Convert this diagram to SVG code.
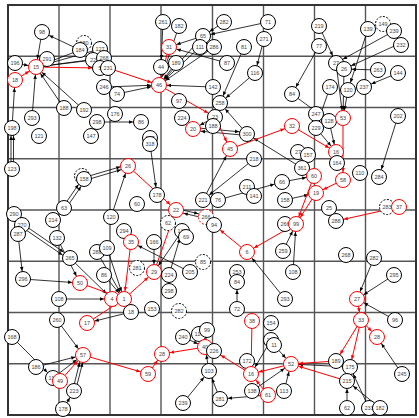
<svg xmlns="http://www.w3.org/2000/svg" width="419" height="418" viewBox="0 0 419 418">
<style>
.grid line{stroke:#555;stroke-width:1.4}
.e{stroke:#000;stroke-width:0.8;fill:none;marker-end:url(#ab)}
.r{stroke:#f00;stroke-width:1;fill:none;marker-end:url(#ar)}
.node circle{fill:#fff;stroke:#000;stroke-width:1}
.node.red circle{stroke:#f00}
.node.dash circle{stroke-dasharray:2,1.5}
.node text{font-family:"Liberation Sans",Arial,sans-serif;font-size:5.5px;fill:#444;text-anchor:middle;dominant-baseline:central}
</style>
<defs>
<marker id="ab" markerUnits="userSpaceOnUse" refX="8" refY="0" markerWidth="10" markerHeight="10" orient="auto" style="overflow:visible"><path d="M-4,-1.8L0,0L-4,1.8z" fill="#000"/></marker>
<marker id="ar" markerUnits="userSpaceOnUse" refX="8" refY="0" markerWidth="10" markerHeight="10" orient="auto" style="overflow:visible"><path d="M-4,-1.8L0,0L-4,1.8z" fill="#f00"/></marker>
</defs>
<rect width="419" height="418" fill="#fff"/>
<g class="grid">
<line x1="59" y1="5" x2="59" y2="415"/><line x1="110" y1="5" x2="110" y2="415"/><line x1="161" y1="5" x2="161" y2="415"/><line x1="212.5" y1="5" x2="212.5" y2="415"/><line x1="263.5" y1="5" x2="263.5" y2="415"/><line x1="314.5" y1="5" x2="314.5" y2="415"/><line x1="365.5" y1="5" x2="365.5" y2="415"/>
<line x1="8" y1="56.25" x2="416" y2="56.25"/><line x1="8" y1="107.5" x2="416" y2="107.5"/><line x1="8" y1="158.75" x2="416" y2="158.75"/><line x1="8" y1="210" x2="416" y2="210"/><line x1="8" y1="261.25" x2="416" y2="261.25"/><line x1="8" y1="312.5" x2="416" y2="312.5"/><line x1="8" y1="363.75" x2="416" y2="363.75"/>
<rect x="8" y="5" width="408" height="410" fill="none" stroke="#333" stroke-width="2"/>
</g>
<g id="edges">
<line class="e" x1="80" y1="50" x2="42" y2="32"/>
<line class="e" x1="42" y1="32" x2="36" y2="67"/>
<line class="e" x1="15" y1="63" x2="36" y2="67"/>
<line class="e" x1="47" y1="59" x2="36" y2="67"/>
<line class="e" x1="80" y1="50" x2="36" y2="67"/>
<line class="e" x1="100" y1="49" x2="36" y2="67"/>
<line class="e" x1="93" y1="60" x2="36" y2="67"/>
<line class="e" x1="104" y1="58" x2="36" y2="67"/>
<line class="e" x1="12" y1="128" x2="15" y2="80"/>
<line class="e" x1="32" y1="118" x2="36" y2="67"/>
<line class="e" x1="64" y1="108" x2="36" y2="67"/>
<line class="e" x1="84" y1="110" x2="36" y2="67"/>
<line class="e" x1="11" y1="169" x2="11" y2="128"/>
<line class="e" x1="13.5" y1="169" x2="13.5" y2="128"/>
<line class="e" x1="104" y1="87" x2="159" y2="85"/>
<line class="e" x1="117" y1="94" x2="159" y2="85"/>
<line class="e" x1="179" y1="26" x2="159" y2="85"/>
<line class="e" x1="203" y1="36" x2="159" y2="85"/>
<line class="e" x1="200" y1="47" x2="159" y2="85"/>
<line class="e" x1="214" y1="47" x2="159" y2="85"/>
<line class="e" x1="224" y1="22" x2="203" y2="36"/>
<line class="e" x1="268" y1="22" x2="203" y2="36"/>
<line class="e" x1="203" y1="36" x2="169" y2="47"/>
<line class="e" x1="227" y1="63" x2="169" y2="47"/>
<line class="e" x1="264" y1="39" x2="255" y2="73"/>
<line class="e" x1="244" y1="47" x2="220" y2="103"/>
<line class="e" x1="255" y1="73" x2="220" y2="103"/>
<line class="e" x1="213" y1="87" x2="159" y2="85"/>
<line class="e" x1="176" y1="63" x2="159" y2="85"/>
<line class="e" x1="163" y1="22" x2="161" y2="67"/>
<line class="e" x1="319" y1="26" x2="336" y2="63"/>
<line class="e" x1="368" y1="29" x2="348" y2="90"/>
<line class="e" x1="394" y1="31" x2="336" y2="63"/>
<line class="e" x1="401" y1="43" x2="344" y2="69"/>
<line class="e" x1="378" y1="70" x2="344" y2="69"/>
<line class="e" x1="398" y1="73" x2="364" y2="87"/>
<line class="e" x1="319" y1="46" x2="292" y2="94"/>
<line class="e" x1="292" y1="94" x2="329" y2="121"/>
<line class="e" x1="336" y1="63" x2="343" y2="118"/>
<line class="e" x1="344" y1="69" x2="343" y2="118"/>
<line class="e" x1="348" y1="90" x2="343" y2="118"/>
<line class="e" x1="330" y1="87" x2="316" y2="128"/>
<line class="e" x1="316" y1="114" x2="343" y2="118"/>
<line class="e" x1="316" y1="128" x2="336" y2="152"/>
<line class="e" x1="329" y1="121" x2="336" y2="152"/>
<line class="e" x1="398" y1="116" x2="379" y2="177"/>
<line class="e" x1="282" y1="182" x2="314" y2="176"/>
<line class="e" x1="285" y1="200" x2="316" y2="193"/>
<line class="e" x1="302" y1="168" x2="247" y2="134"/>
<line class="e" x1="254" y1="159" x2="203" y2="200"/>
<line class="e" x1="203" y1="200" x2="230" y2="149"/>
<line class="e" x1="218" y1="200" x2="282" y2="182"/>
<line class="e" x1="247" y1="134" x2="220" y2="103"/>
<line class="e" x1="215" y1="117" x2="193" y2="129"/>
<line class="e" x1="193" y1="127.5" x2="247" y2="132.5"/>
<line class="e" x1="247" y1="135.5" x2="193" y2="130.5"/>
<line class="e" x1="150" y1="144" x2="157" y2="195"/>
<line class="e" x1="97" y1="122" x2="141" y2="122"/>
<line class="e" x1="63" y1="207" x2="83" y2="178"/>
<line class="e" x1="65.5" y1="209" x2="85.5" y2="180"/>
<line class="e" x1="84" y1="177.5" x2="128" y2="164.5"/>
<line class="e" x1="84.5" y1="180.5" x2="128.5" y2="167.5"/>
<line class="e" x1="111" y1="217" x2="128" y2="166"/>
<line class="e" x1="53" y1="220" x2="64" y2="208"/>
<line class="e" x1="18" y1="234" x2="23" y2="279"/>
<line class="e" x1="22" y1="223.5" x2="70" y2="256.5"/>
<line class="e" x1="21" y1="226.5" x2="69" y2="259.5"/>
<line class="e" x1="57" y1="238" x2="80" y2="283"/>
<line class="e" x1="70" y1="258" x2="112" y2="299"/>
<line class="e" x1="23" y1="279" x2="80" y2="283"/>
<line class="e" x1="97" y1="252" x2="124" y2="299"/>
<line class="e" x1="107" y1="248" x2="124" y2="299"/>
<line class="e" x1="104" y1="275" x2="124" y2="299"/>
<line class="e" x1="59" y1="299" x2="112" y2="299"/>
<line class="e" x1="154" y1="242" x2="154" y2="272"/>
<line class="e" x1="182" y1="231" x2="154" y2="272"/>
<line class="e" x1="169" y1="275" x2="182" y2="231"/>
<line class="e" x1="190" y1="272" x2="131" y2="242"/>
<line class="e" x1="176" y1="208.5" x2="206" y2="215.5"/>
<line class="e" x1="206" y1="218.5" x2="176" y2="211.5"/>
<line class="e" x1="285" y1="299" x2="247" y2="252"/>
<line class="e" x1="283" y1="251" x2="296" y2="224"/>
<line class="e" x1="293" y1="272" x2="296" y2="224"/>
<line class="e" x1="374" y1="258" x2="357" y2="299"/>
<line class="e" x1="394" y1="275" x2="357" y2="299"/>
<line class="e" x1="395" y1="320" x2="357" y2="299"/>
<line class="e" x1="402" y1="374" x2="377" y2="337"/>
<line class="e" x1="347" y1="408" x2="347" y2="381"/>
<line class="e" x1="369" y1="408" x2="350" y2="367"/>
<line class="e" x1="380" y1="408" x2="347" y2="381"/>
<line class="e" x1="350" y1="367" x2="291" y2="364"/>
<line class="e" x1="271" y1="340" x2="251" y2="374"/>
<line class="e" x1="274" y1="345" x2="291" y2="364"/>
<line class="e" x1="252" y1="391" x2="291" y2="364"/>
<line class="e" x1="284" y1="391" x2="291" y2="364"/>
<line class="e" x1="268" y1="395" x2="220" y2="399"/>
<line class="e" x1="220" y1="399" x2="209" y2="371"/>
<line class="e" x1="183" y1="403" x2="209" y2="371"/>
<line class="e" x1="209" y1="371" x2="205" y2="347"/>
<line class="e" x1="183" y1="337" x2="205" y2="347"/>
<line class="e" x1="207" y1="330" x2="205" y2="347"/>
<line class="e" x1="57" y1="320" x2="83" y2="355"/>
<line class="e" x1="36" y1="367" x2="83" y2="355"/>
<line class="e" x1="53" y1="378" x2="83" y2="355"/>
<line class="e" x1="72.5" y1="391" x2="81.5" y2="355"/>
<line class="e" x1="75.5" y1="391" x2="84.5" y2="355"/>
<line class="e" x1="63" y1="409" x2="74" y2="391"/>
<line class="e" x1="12" y1="337" x2="53" y2="378"/>
<line class="e" x1="131" y1="312" x2="87" y2="323"/>
<line class="e" x1="237" y1="309" x2="237" y2="282"/>
<line class="r" x1="15" y1="80" x2="36" y2="67"/>
<line class="r" x1="36" y1="67" x2="100" y2="68"/>
<line class="r" x1="108" y1="68" x2="159" y2="85"/>
<line class="r" x1="169" y1="47" x2="159" y2="85"/>
<line class="r" x1="159" y1="85" x2="215" y2="117"/>
<line class="r" x1="215" y1="117" x2="230" y2="149"/>
<line class="r" x1="230" y1="149" x2="292" y2="126"/>
<line class="r" x1="292" y1="126" x2="336" y2="152"/>
<line class="r" x1="343" y1="118" x2="343" y2="180"/>
<line class="r" x1="343" y1="180" x2="316" y2="193"/>
<line class="r" x1="314" y1="176" x2="296" y2="224"/>
<line class="r" x1="316" y1="193" x2="296" y2="224"/>
<line class="r" x1="399" y1="207" x2="336" y2="221"/>
<line class="r" x1="296" y1="224" x2="247" y2="252"/>
<line class="r" x1="247" y1="252" x2="214" y2="225"/>
<line class="r" x1="128" y1="166" x2="176" y2="210"/>
<line class="r" x1="154" y1="272" x2="176" y2="210"/>
<line class="r" x1="131" y1="242" x2="124" y2="299"/>
<line class="r" x1="80" y1="283" x2="124" y2="299"/>
<line class="r" x1="124" y1="299" x2="154" y2="272"/>
<line class="r" x1="87" y1="323" x2="124" y2="299"/>
<line class="r" x1="60" y1="381" x2="83" y2="355"/>
<line class="r" x1="83" y1="355" x2="148" y2="374"/>
<line class="r" x1="148" y1="374" x2="162" y2="354"/>
<line class="r" x1="205" y1="347" x2="162" y2="354"/>
<line class="r" x1="252" y1="321" x2="251" y2="374"/>
<line class="r" x1="251" y1="374" x2="214" y2="351"/>
<line class="r" x1="268" y1="395" x2="251" y2="374"/>
<line class="r" x1="291" y1="364" x2="251" y2="374"/>
<line class="r" x1="357" y1="299" x2="361" y2="320"/>
<line class="r" x1="361" y1="320" x2="377" y2="337"/>
<line class="r" x1="361" y1="320" x2="336" y2="361"/>
<line class="r" x1="361" y1="320" x2="350" y2="367"/>
<line class="r" x1="336" y1="361" x2="291" y2="364"/>
<line class="r" x1="347" y1="381" x2="291" y2="364"/>
</g>
<g id="n-98" class="node"><circle cx="42" cy="32" r="7.5"/><text x="42" y="32">98</text></g>
<g id="n-180" class="node dash"><circle cx="84" cy="43" r="7.5"/><text x="84" y="43">180</text></g>
<g id="n-184" class="node"><circle cx="80" cy="50" r="7.5"/><text x="80" y="50">184</text></g>
<g id="n-127" class="node"><circle cx="100" cy="49" r="7.5"/><text x="100" y="49">127</text></g>
<g id="n-196" class="node"><circle cx="15" cy="63" r="7.5"/><text x="15" y="63">196</text></g>
<g id="n-291" class="node"><circle cx="47" cy="59" r="7.5"/><text x="47" y="59">291</text></g>
<g id="n-15" class="node red"><circle cx="36" cy="67" r="7.5"/><text x="36" y="67">15</text></g>
<g id="n-22" class="node"><circle cx="93" cy="60" r="7.5"/><text x="93" y="60">22</text></g>
<g id="n-268a" class="node"><circle cx="104" cy="58" r="7.5"/><text x="104" y="58">268</text></g>
<g id="n-5" class="node"><circle cx="100" cy="68" r="7.5"/><text x="100" y="68">5</text></g>
<g id="n-231" class="node"><circle cx="108" cy="68" r="7.5"/><text x="108" y="68">231</text></g>
<g id="n-18" class="node red"><circle cx="15" cy="80" r="7.5"/><text x="15" y="80">18</text></g>
<g id="n-246" class="node"><circle cx="104" cy="87" r="7.5"/><text x="104" y="87">246</text></g>
<g id="n-74" class="node"><circle cx="117" cy="94" r="7.5"/><text x="117" y="94">74</text></g>
<g id="n-261" class="node"><circle cx="163" cy="22" r="7.5"/><text x="163" y="22">261</text></g>
<g id="n-182" class="node"><circle cx="179" cy="26" r="7.5"/><text x="179" y="26">182</text></g>
<g id="n-31" class="node red"><circle cx="169" cy="47" r="7.5"/><text x="169" y="47">31</text></g>
<g id="n-65" class="node"><circle cx="203" cy="36" r="7.5"/><text x="203" y="36">65</text></g>
<g id="n-111" class="node"><circle cx="200" cy="47" r="7.5"/><text x="200" y="47">111</text></g>
<g id="n-286" class="node"><circle cx="214" cy="47" r="7.5"/><text x="214" y="47">286</text></g>
<g id="n-282" class="node"><circle cx="224" cy="22" r="7.5"/><text x="224" y="22">282</text></g>
<g id="n-71" class="node"><circle cx="268" cy="22" r="7.5"/><text x="268" y="22">71</text></g>
<g id="n-271" class="node"><circle cx="264" cy="39" r="7.5"/><text x="264" y="39">271</text></g>
<g id="n-81" class="node"><circle cx="244" cy="47" r="7.5"/><text x="244" y="47">81</text></g>
<g id="n-87" class="node"><circle cx="227" cy="63" r="7.5"/><text x="227" y="63">87</text></g>
<g id="n-116" class="node"><circle cx="255" cy="73" r="7.5"/><text x="255" y="73">116</text></g>
<g id="n-44" class="node"><circle cx="161" cy="67" r="7.5"/><text x="161" y="67">44</text></g>
<g id="n-189a" class="node"><circle cx="176" cy="63" r="7.5"/><text x="176" y="63">189</text></g>
<g id="n-46" class="node red"><circle cx="159" cy="85" r="7.5"/><text x="159" y="85">46</text></g>
<g id="n-142" class="node"><circle cx="213" cy="87" r="7.5"/><text x="213" y="87">142</text></g>
<g id="n-97" class="node"><circle cx="179" cy="101" r="7.5"/><text x="179" y="101">97</text></g>
<g id="n-258" class="node"><circle cx="220" cy="103" r="7.5"/><text x="220" y="103">258</text></g>
<g id="n-219" class="node"><circle cx="319" cy="26" r="7.5"/><text x="319" y="26">219</text></g>
<g id="n-77" class="node"><circle cx="319" cy="46" r="7.5"/><text x="319" y="46">77</text></g>
<g id="n-139" class="node"><circle cx="368" cy="29" r="7.5"/><text x="368" y="29">139</text></g>
<g id="n-149" class="node dash"><circle cx="383" cy="24" r="7.5"/><text x="383" y="24">149</text></g>
<g id="n-239a" class="node"><circle cx="394" cy="31" r="7.5"/><text x="394" y="31">239</text></g>
<g id="n-232" class="node"><circle cx="401" cy="45" r="7.5"/><text x="401" y="45">232</text></g>
<g id="n-27a" class="node"><circle cx="336" cy="63" r="7.5"/><text x="336" y="63">27</text></g>
<g id="n-26c" class="node"><circle cx="344" cy="69" r="7.5"/><text x="344" y="69">26</text></g>
<g id="n-263" class="node"><circle cx="378" cy="70" r="7.5"/><text x="378" y="70">263</text></g>
<g id="n-144" class="node"><circle cx="398" cy="73" r="7.5"/><text x="398" y="73">144</text></g>
<g id="n-84a" class="node"><circle cx="292" cy="94" r="7.5"/><text x="292" y="94">84</text></g>
<g id="n-174" class="node"><circle cx="330" cy="87" r="7.5"/><text x="330" y="87">174</text></g>
<g id="n-120a" class="node"><circle cx="348" cy="90" r="7.5"/><text x="348" y="90">120</text></g>
<g id="n-237" class="node"><circle cx="364" cy="87" r="7.5"/><text x="364" y="87">237</text></g>
<g id="n-188a" class="node"><circle cx="64" cy="108" r="7.5"/><text x="64" y="108">188</text></g>
<g id="n-192" class="node"><circle cx="84" cy="110" r="7.5"/><text x="84" y="110">192</text></g>
<g id="n-176" class="node"><circle cx="115" cy="114" r="7.5"/><text x="115" y="114">176</text></g>
<g id="n-198" class="node"><circle cx="12" cy="128" r="7.5"/><text x="12" y="128">198</text></g>
<g id="n-293a" class="node"><circle cx="32" cy="118" r="7.5"/><text x="32" y="118">293</text></g>
<g id="n-121" class="node"><circle cx="39" cy="136" r="7.5"/><text x="39" y="136">121</text></g>
<g id="n-298a" class="node"><circle cx="97" cy="122" r="7.5"/><text x="97" y="122">298</text></g>
<g id="n-147" class="node"><circle cx="91" cy="136" r="7.5"/><text x="91" y="136">147</text></g>
<g id="n-86a" class="node"><circle cx="141" cy="122" r="7.5"/><text x="141" y="122">86</text></g>
<g id="n-137" class="node"><circle cx="150" cy="138" r="7.5"/><text x="150" y="138">137</text></g>
<g id="n-318" class="node"><circle cx="150" cy="144" r="7.5"/><text x="150" y="144">318</text></g>
<g id="n-224a" class="node"><circle cx="182" cy="118" r="7.5"/><text x="182" y="118">224</text></g>
<g id="n-23" class="node"><circle cx="215" cy="117" r="7.5"/><text x="215" y="117">23</text></g>
<g id="n-20" class="node red"><circle cx="193" cy="129" r="7.5"/><text x="193" y="129">20</text></g>
<g id="n-188b" class="node"><circle cx="213" cy="126" r="7.5"/><text x="213" y="126">188</text></g>
<g id="n-300" class="node"><circle cx="247" cy="134" r="7.5"/><text x="247" y="134">300</text></g>
<g id="n-45" class="node red"><circle cx="230" cy="149" r="7.5"/><text x="230" y="149">45</text></g>
<g id="n-32" class="node red"><circle cx="292" cy="126" r="7.5"/><text x="292" y="126">32</text></g>
<g id="n-247" class="node"><circle cx="316" cy="114" r="7.5"/><text x="316" y="114">247</text></g>
<g id="n-128" class="node"><circle cx="329" cy="121" r="7.5"/><text x="329" y="121">128</text></g>
<g id="n-229" class="node"><circle cx="316" cy="128" r="7.5"/><text x="316" y="128">229</text></g>
<g id="n-53" class="node red"><circle cx="343" cy="118" r="7.5"/><text x="343" y="118">53</text></g>
<g id="n-202" class="node"><circle cx="398" cy="116" r="7.5"/><text x="398" y="116">202</text></g>
<g id="n-16a" class="node red"><circle cx="336" cy="152" r="7.5"/><text x="336" y="152">16</text></g>
<g id="n-27b" class="node"><circle cx="298" cy="152" r="7.5"/><text x="298" y="152">27</text></g>
<g id="n-157" class="node"><circle cx="308" cy="155" r="7.5"/><text x="308" y="155">157</text></g>
<g id="n-123" class="node"><circle cx="12" cy="169" r="7.5"/><text x="12" y="169">123</text></g>
<g id="n-26" class="node red"><circle cx="128" cy="166" r="7.5"/><text x="128" y="166">26</text></g>
<g id="n-pd" class="node dash"><circle cx="82" cy="176" r="7.5"/></g>
<g id="n-158a" class="node"><circle cx="84" cy="179" r="7.5"/><text x="84" y="179">158</text></g>
<g id="n-218" class="node"><circle cx="254" cy="159" r="7.5"/><text x="254" y="159">218</text></g>
<g id="n-211" class="node"><circle cx="247" cy="187" r="7.5"/><text x="247" y="187">211</text></g>
<g id="n-141" class="node"><circle cx="254" cy="196" r="7.5"/><text x="254" y="196">141</text></g>
<g id="n-221" class="node"><circle cx="203" cy="200" r="7.5"/><text x="203" y="200">221</text></g>
<g id="n-76" class="node"><circle cx="218" cy="200" r="7.5"/><text x="218" y="200">76</text></g>
<g id="n-60a" class="node"><circle cx="137" cy="204" r="7.5"/><text x="137" y="204">60</text></g>
<g id="n-178a" class="node"><circle cx="157" cy="195" r="7.5"/><text x="157" y="195">178</text></g>
<g id="n-164" class="node"><circle cx="337" cy="163" r="7.5"/><text x="337" y="163">164</text></g>
<g id="n-58" class="node red"><circle cx="343" cy="180" r="7.5"/><text x="343" y="180">58</text></g>
<g id="n-110" class="node"><circle cx="360" cy="173" r="7.5"/><text x="360" y="173">110</text></g>
<g id="n-284" class="node"><circle cx="379" cy="177" r="7.5"/><text x="379" y="177">284</text></g>
<g id="n-361" class="node"><circle cx="302" cy="168" r="7.5"/><text x="302" y="168">361</text></g>
<g id="n-60b" class="node red"><circle cx="314" cy="176" r="7.5"/><text x="314" y="176">60</text></g>
<g id="n-66" class="node"><circle cx="282" cy="182" r="7.5"/><text x="282" y="182">66</text></g>
<g id="n-158b" class="node"><circle cx="285" cy="200" r="7.5"/><text x="285" y="200">158</text></g>
<g id="n-19" class="node red"><circle cx="316" cy="193" r="7.5"/><text x="316" y="193">19</text></g>
<g id="n-283" class="node dash"><circle cx="387" cy="207" r="7.5"/><text x="387" y="207">283</text></g>
<g id="n-37" class="node red"><circle cx="399" cy="207" r="7.5"/><text x="399" y="207">37</text></g>
<g id="n-25" class="node"><circle cx="329" cy="208" r="7.5"/><text x="329" y="208">25</text></g>
<g id="n-63" class="node"><circle cx="64" cy="208" r="7.5"/><text x="64" y="208">63</text></g>
<g id="n-290" class="node"><circle cx="14" cy="214" r="7.5"/><text x="14" y="214">290</text></g>
<g id="n-214" class="node"><circle cx="53" cy="220" r="7.5"/><text x="53" y="220">214</text></g>
<g id="n-270" class="node"><circle cx="22" cy="225" r="7.5"/><text x="22" y="225">270</text></g>
<g id="n-287" class="node"><circle cx="18" cy="234" r="7.5"/><text x="18" y="234">287</text></g>
<g id="n-132" class="node"><circle cx="57" cy="238" r="7.5"/><text x="57" y="238">132</text></g>
<g id="n-120b" class="node"><circle cx="111" cy="217" r="7.5"/><text x="111" y="217">120</text></g>
<g id="n-294" class="node"><circle cx="124" cy="231" r="7.5"/><text x="124" y="231">294</text></g>
<g id="n-35" class="node red"><circle cx="131" cy="242" r="7.5"/><text x="131" y="242">35</text></g>
<g id="n-265" class="node"><circle cx="70" cy="258" r="7.5"/><text x="70" y="258">265</text></g>
<g id="n-288a" class="node"><circle cx="97" cy="252" r="7.5"/><text x="97" y="252">288</text></g>
<g id="n-109" class="node"><circle cx="107" cy="248" r="7.5"/><text x="107" y="248">109</text></g>
<g id="n-62d" class="node dash"><circle cx="168" cy="223" r="7.5"/><text x="168" y="223">62</text></g>
<g id="n-138a" class="node"><circle cx="182" cy="231" r="7.5"/><text x="182" y="231">138</text></g>
<g id="n-69" class="node"><circle cx="186" cy="237" r="7.5"/><text x="186" y="237">69</text></g>
<g id="n-266d" class="node red dash"><circle cx="206" cy="217" r="7.5"/><text x="206" y="217">266</text></g>
<g id="n-94" class="node"><circle cx="214" cy="225" r="7.5"/><text x="214" y="225">94</text></g>
<g id="n-22r" class="node red"><circle cx="176" cy="210" r="7.5"/><text x="176" y="210">22</text></g>
<g id="n-6" class="node red"><circle cx="247" cy="252" r="7.5"/><text x="247" y="252">6</text></g>
<g id="n-166" class="node"><circle cx="154" cy="242" r="7.5"/><text x="154" y="242">166</text></g>
<g id="n-266" class="node"><circle cx="285" cy="224" r="7.5"/><text x="285" y="224">266</text></g>
<g id="n-99a" class="node red"><circle cx="296" cy="224" r="7.5"/><text x="296" y="224">99</text></g>
<g id="n-288b" class="node"><circle cx="336" cy="221" r="7.5"/><text x="336" y="221">288</text></g>
<g id="n-259" class="node"><circle cx="283" cy="251" r="7.5"/><text x="283" y="251">259</text></g>
<g id="n-268" class="node"><circle cx="346" cy="255" r="7.5"/><text x="346" y="255">268</text></g>
<g id="n-282b" class="node"><circle cx="374" cy="258" r="7.5"/><text x="374" y="258">282</text></g>
<g id="n-296" class="node"><circle cx="23" cy="279" r="7.5"/><text x="23" y="279">296</text></g>
<g id="n-86b" class="node"><circle cx="104" cy="275" r="7.5"/><text x="104" y="275">86</text></g>
<g id="n-281d" class="node dash"><circle cx="137" cy="268" r="7.5"/><text x="137" y="268">281</text></g>
<g id="n-50" class="node red"><circle cx="80" cy="283" r="7.5"/><text x="80" y="283">50</text></g>
<g id="n-108a" class="node"><circle cx="59" cy="299" r="7.5"/><text x="59" y="299">108</text></g>
<g id="n-4r" class="node red"><circle cx="112" cy="299" r="7.5"/><text x="112" y="299">4</text></g>
<g id="n-1" class="node red"><circle cx="124" cy="299" r="7.5"/><text x="124" y="299">1</text></g>
<g id="n-85" class="node dash"><circle cx="203" cy="262" r="7.5"/><text x="203" y="262">85</text></g>
<g id="n-29" class="node red"><circle cx="154" cy="272" r="7.5"/><text x="154" y="272">29</text></g>
<g id="n-224b" class="node"><circle cx="169" cy="275" r="7.5"/><text x="169" y="275">224</text></g>
<g id="n-205" class="node"><circle cx="190" cy="272" r="7.5"/><text x="190" y="272">205</text></g>
<g id="n-298b" class="node"><circle cx="169" cy="291" r="7.5"/><text x="169" y="291">298</text></g>
<g id="n-253" class="node"><circle cx="237" cy="272" r="7.5"/><text x="237" y="272">253</text></g>
<g id="n-84b" class="node"><circle cx="237" cy="282" r="7.5"/><text x="237" y="282">84</text></g>
<g id="n-108b" class="node"><circle cx="293" cy="272" r="7.5"/><text x="293" y="272">108</text></g>
<g id="n-295" class="node"><circle cx="394" cy="275" r="7.5"/><text x="394" y="275">295</text></g>
<g id="n-293b" class="node"><circle cx="285" cy="299" r="7.5"/><text x="285" y="299">293</text></g>
<g id="n-27r" class="node red"><circle cx="357" cy="299" r="7.5"/><text x="357" y="299">27</text></g>
<g id="n-153" class="node"><circle cx="152" cy="309" r="7.5"/><text x="152" y="309">153</text></g>
<g id="n-282d" class="node dash"><circle cx="179" cy="311" r="7.5"/><text x="179" y="311">282</text></g>
<g id="n-72" class="node"><circle cx="237" cy="309" r="7.5"/><text x="237" y="309">72</text></g>
<g id="n-18x" class="node"><circle cx="131" cy="312" r="7.5"/><text x="131" y="312">18</text></g>
<g id="n-260" class="node"><circle cx="57" cy="320" r="7.5"/><text x="57" y="320">260</text></g>
<g id="n-17" class="node red"><circle cx="87" cy="323" r="7.5"/><text x="87" y="323">17</text></g>
<g id="n-168" class="node"><circle cx="12" cy="337" r="7.5"/><text x="12" y="337">168</text></g>
<g id="n-57" class="node red"><circle cx="83" cy="355" r="7.5"/><text x="83" y="355">57</text></g>
<g id="n-119" class="node"><circle cx="199" cy="334" r="7.5"/><text x="199" y="334">119</text></g>
<g id="n-99b" class="node"><circle cx="207" cy="330" r="7.5"/><text x="207" y="330">99</text></g>
<g id="n-240" class="node"><circle cx="183" cy="337" r="7.5"/><text x="183" y="337">240</text></g>
<g id="n-40" class="node red"><circle cx="205" cy="347" r="7.5"/><text x="205" y="347">40</text></g>
<g id="n-226" class="node"><circle cx="214" cy="351" r="7.5"/><text x="214" y="351">226</text></g>
<g id="n-28a" class="node red"><circle cx="162" cy="354" r="7.5"/><text x="162" y="354">28</text></g>
<g id="n-38" class="node red"><circle cx="252" cy="321" r="7.5"/><text x="252" y="321">38</text></g>
<g id="n-154" class="node"><circle cx="271" cy="323" r="7.5"/><text x="271" y="323">154</text></g>
<g id="n-173" class="node"><circle cx="271" cy="340" r="7.5"/><text x="271" y="340">173</text></g>
<g id="n-11" class="node"><circle cx="274" cy="345" r="7.5"/><text x="274" y="345">11</text></g>
<g id="n-33" class="node red"><circle cx="361" cy="320" r="7.5"/><text x="361" y="320">33</text></g>
<g id="n-96" class="node"><circle cx="395" cy="320" r="7.5"/><text x="395" y="320">96</text></g>
<g id="n-28b" class="node red"><circle cx="377" cy="337" r="7.5"/><text x="377" y="337">28</text></g>
<g id="n-189" class="node"><circle cx="336" cy="361" r="7.5"/><text x="336" y="361">189</text></g>
<g id="n-52" class="node red"><circle cx="291" cy="364" r="7.5"/><text x="291" y="364">52</text></g>
<g id="n-172" class="node"><circle cx="247" cy="361" r="7.5"/><text x="247" y="361">172</text></g>
<g id="n-186" class="node"><circle cx="36" cy="367" r="7.5"/><text x="36" y="367">186</text></g>
<g id="n-117" class="node"><circle cx="53" cy="378" r="7.5"/><text x="53" y="378">117</text></g>
<g id="n-49" class="node red"><circle cx="60" cy="381" r="7.5"/><text x="60" y="381">49</text></g>
<g id="n-223" class="node"><circle cx="74" cy="391" r="7.5"/><text x="74" y="391">223</text></g>
<g id="n-178b" class="node"><circle cx="63" cy="409" r="7.5"/><text x="63" y="409">178</text></g>
<g id="n-59" class="node red"><circle cx="148" cy="374" r="7.5"/><text x="148" y="374">59</text></g>
<g id="n-103" class="node"><circle cx="209" cy="371" r="7.5"/><text x="209" y="371">103</text></g>
<g id="n-239b" class="node"><circle cx="183" cy="403" r="7.5"/><text x="183" y="403">239</text></g>
<g id="n-281" class="node"><circle cx="220" cy="399" r="7.5"/><text x="220" y="399">281</text></g>
<g id="n-16b" class="node red"><circle cx="251" cy="374" r="7.5"/><text x="251" y="374">16</text></g>
<g id="n-138b" class="node"><circle cx="252" cy="391" r="7.5"/><text x="252" y="391">138</text></g>
<g id="n-61" class="node red"><circle cx="268" cy="395" r="7.5"/><text x="268" y="395">61</text></g>
<g id="n-113" class="node"><circle cx="284" cy="391" r="7.5"/><text x="284" y="391">113</text></g>
<g id="n-175" class="node"><circle cx="350" cy="367" r="7.5"/><text x="350" y="367">175</text></g>
<g id="n-215" class="node"><circle cx="347" cy="381" r="7.5"/><text x="347" y="381">215</text></g>
<g id="n-245" class="node"><circle cx="402" cy="374" r="7.5"/><text x="402" y="374">245</text></g>
<g id="n-62" class="node"><circle cx="347" cy="408" r="7.5"/><text x="347" y="408">62</text></g>
<g id="n-233" class="node"><circle cx="369" cy="408" r="7.5"/><text x="369" y="408">233</text></g>
<g id="n-182b" class="node"><circle cx="380" cy="408" r="7.5"/><text x="380" y="408">182</text></g>
</svg>
